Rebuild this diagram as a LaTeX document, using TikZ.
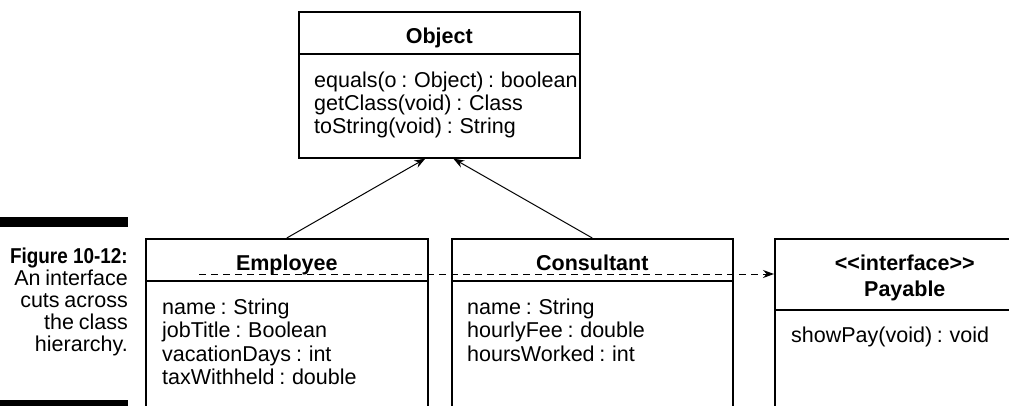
\documentclass[tikz,border=0pt]{standalone}
\usepackage{fontspec}
\setmainfont{Liberation Sans}[WordSpace=0.8]
\newfontfamily\figfont{Liberation Sans}[FakeStretch=0.88]
\usetikzlibrary{arrows.meta}

\newcommand{\umlfont}{\fontsize{21.5}{23.5}\selectfont}

\tikzstyle{classbox} = [
    rectangle,
    draw=black,
    line width=1.6pt,
    anchor=north west,
    inner sep=0pt,
    minimum height=200pt
]
\tikzstyle{classname} = [anchor=base, inner sep=0pt, font=\umlfont\bfseries]
\tikzstyle{member} = [anchor=base west, inner sep=0pt, font=\umlfont]
\tikzstyle{caption} = [anchor=base east, inner sep=0pt, font=\umlfont]
\tikzstyle{divider} = [line width=1.2pt]
\tikzstyle{arrow} = [line width=1pt, -{Stealth[length=11pt,width=8pt]}]
\tikzstyle{realize} = [arrow, dash pattern=on 7pt off 5pt]

\begin{document}
\begin{tikzpicture}[x=1pt, y=-1pt]

\useasboundingbox (0,0) rectangle (1009,405);
\clip (0,0) rectangle (1009,405);

% figure caption at the left
\fill (0,217) rectangle (128,227);
\fill (0,400) rectangle (128,412);
\node (figlabel) [caption] at (128,263) {\figfont\bfseries Figure 10-12:};
\foreach \txt [count=\i] in {An interface, cuts across, the class, hierarchy.}
    \node (figline\i) [caption] at (128,{263+22*\i}) {\txt};

% classes
\node (object) [classbox, minimum width=281pt, minimum height=146pt] at (298,11) {};
\node (employee) [classbox, minimum width=282pt] at (145,238) {};
\node (consultant) [classbox, minimum width=281pt] at (451,238) {};
\node (payable) [classbox, minimum width=260pt] at (774,238) {};

\draw [divider] ([yshift=-43pt]object.north west) -- ([yshift=-43pt]object.north east);
\draw [divider] ([yshift=-43pt]employee.north west) -- ([yshift=-43pt]employee.north east);
\draw [divider] ([yshift=-43pt]consultant.north west) -- ([yshift=-43pt]consultant.north east);
\draw [divider] ([yshift=-72pt]payable.north west) -- ([yshift=-72pt]payable.north east);

\node (objectname) [classname] at ([yshift=-32pt]object.north) {Object};
\node (employeename) [classname] at ([yshift=-32pt]employee.north) {Employee};
\node (consultantname) [classname] at ([yshift=-32pt]consultant.north) {Consultant};
\node (payablestereo) [classname] at ([yshift=-32pt]payable.north) {<{}<interface>{}>};
\node (payablename) [classname] at ([yshift=-58pt]payable.north) {Payable};

\foreach \txt [count=\i] in {equals(o : Object) : boolean, getClass(void) : Class, toString(void) : String}
    \node (objectm\i) [member] at (314,{87+23*(\i-1)}) {\txt};
\foreach \txt [count=\i] in {name : String, jobTitle : Boolean, vacationDays : int, taxWithheld : double}
    \node (employeem\i) [member] at (162,{314+23.5*(\i-1)}) {\txt};
\foreach \txt [count=\i] in {name : String, hourlyFee : double, hoursWorked : int}
    \node (consultantm\i) [member] at (467,{314+23.5*(\i-1)}) {\txt};
\node (payablem1) [member] at (791,342) {showPay(void) : void};

% connectors
\draw [arrow] (employee.north) -- ([xshift=-14pt]object.south);
\draw [arrow] (consultant.north) -- ([xshift=14pt]object.south);

\coordinate (dashstart) at (199,274);
\draw [realize] (dashstart) -- (dashstart -| payable.west);

\end{tikzpicture}
\end{document}
